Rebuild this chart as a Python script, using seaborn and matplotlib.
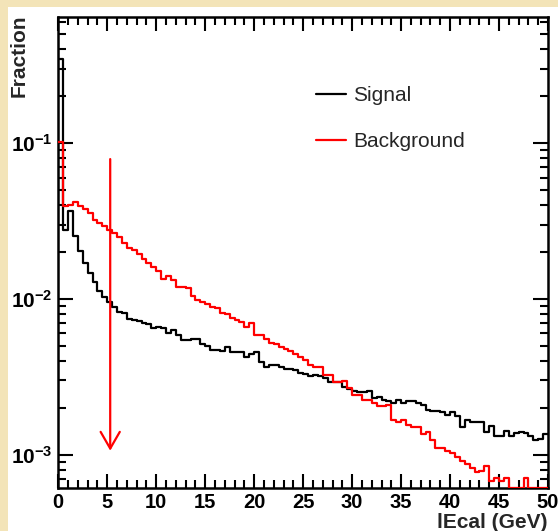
import numpy as np
import pandas as pd
import matplotlib
matplotlib.use("Agg")
import matplotlib.pyplot as plt
from matplotlib.patches import Rectangle
from matplotlib.ticker import MultipleLocator, LogLocator, NullFormatter
import seaborn as sns

# 100 bins of 0.5 GeV between 0 and 50 GeV
bin_edges = np.linspace(0, 50, 101)

signal = [
    0.347, 0.0278, 0.0368, 0.0255, 0.0204, 0.0171, 0.01475, 0.0129, 0.0113, 0.01035,
    0.00961, 0.00893, 0.00830, 0.00817, 0.00748, 0.00737, 0.00726, 0.00705, 0.00695, 0.00655,
    0.00665, 0.00655, 0.00608, 0.00627, 0.00590, 0.00548, 0.00548, 0.00557, 0.00552, 0.00517,
    0.00502, 0.00473, 0.00473, 0.00466, 0.00494, 0.00459, 0.00459, 0.00453, 0.00421, 0.00446,
    0.00453, 0.00396, 0.00368, 0.00379, 0.00379, 0.00368, 0.00357, 0.00357, 0.00352, 0.00337,
    0.00332, 0.00318, 0.00323, 0.00318, 0.00313, 0.00295, 0.00291, 0.00291, 0.00274, 0.00266,
    0.00255, 0.00251, 0.00251, 0.00258, 0.00230, 0.00233, 0.00226, 0.00220, 0.00216, 0.00226,
    0.00216, 0.00220, 0.00220, 0.00216, 0.00207, 0.00195, 0.00192, 0.00190, 0.00187, 0.00179,
    0.00187, 0.00176, 0.00150, 0.00168, 0.00163, 0.00163, 0.00161, 0.00139, 0.00152, 0.00131,
    0.00131, 0.00143, 0.00131, 0.00137, 0.00139, 0.00137, 0.00131, 0.00125, 0.00127, 0.00135,
]

background = [
    0.102, 0.0396, 0.0402, 0.0421, 0.0396, 0.0379, 0.0357, 0.0322, 0.0308, 0.0295,
    0.0278, 0.0266, 0.0251, 0.0230, 0.0213, 0.0207, 0.0195, 0.0181, 0.0171, 0.0161,
    0.0150, 0.0135, 0.0141, 0.0133, 0.0120, 0.0120, 0.0118, 0.0105, 0.00990, 0.00961,
    0.00933, 0.00893, 0.00880, 0.00817, 0.00805, 0.00759, 0.00737, 0.00715, 0.00664, 0.00705,
    0.00590, 0.00590, 0.00557, 0.00525, 0.00517, 0.00494, 0.00480, 0.00466, 0.00440, 0.00421,
    0.00408, 0.00379, 0.00368, 0.00368, 0.00323, 0.00323, 0.00295, 0.00295, 0.00299, 0.00270,
    0.00243, 0.00243, 0.00226, 0.00226, 0.00216, 0.00204, 0.00204, 0.00207, 0.00168, 0.00161,
    0.00166, 0.00154, 0.00150, 0.00150, 0.00135, 0.00139, 0.00124, 0.00111, 0.00110, 0.00105,
    0.00103, 0.000961, 0.000906, 0.000867, 0.000817, 0.000771, 0.000782, 0.000842, 0.000674, 0.000705,
    0.000674, 0.000705, 0.0, 0.0, 0.0, 0.000705, 0.0, 0.0, 0.0, 0.0,
]

series_labels = ["Signal", "Background"]
series_colors = ["black", "#ff0000"]

x_ticks = [0, 5, 10, 15, 20, 25, 30, 35, 40, 45, 50]
y_ticks = [1e-3, 1e-2, 1e-1]
y_tick_labels = [r"$\mathbf{10^{-3}}$", r"$\mathbf{10^{-2}}$", r"$\mathbf{10^{-1}}$"]

cut_value = 5.3
arrow_top, arrow_tip = 0.079, 1.06e-3
y_range = (6.14e-4, 0.648)

sns.set_theme(style="ticks")
plt.rcParams["font.family"] = ["Liberation Sans", "DejaVu Sans"]
plt.rcParams["mathtext.fontset"] = "custom"
plt.rcParams["mathtext.rm"] = "Liberation Sans"
plt.rcParams["mathtext.bf"] = "Liberation Sans:bold"

W, H = 558, 531
fig = plt.figure(figsize=(W / 100, H / 100), dpi=100)
fig.patch.set_facecolor("#f3e4b8")
fig.patches.append(Rectangle((8 / W, 0), (W - 8) / W, (H - 7) / H,
                             transform=fig.transFigure, facecolor="white",
                             edgecolor="none", zorder=-10))

ax = fig.add_axes([58.3 / W, (H - 487.7) / H, 489.7 / W, 471 / H])
ax.set_facecolor("white")

centers = 0.5 * (bin_edges[:-1] + bin_edges[1:])
for values, label, color in zip([signal, background], series_labels, series_colors):
    # empty bins sit on the lower frame, as on a log axis they have no height
    frame = pd.DataFrame({"energy": centers,
                          "fraction": np.maximum(np.asarray(values), y_range[0])})
    sns.histplot(data=frame, x="energy", weights="fraction", bins=list(bin_edges),
                 element="step", fill=False, color=color, lw=1.6, label=label,
                 ax=ax, zorder=3)

ax.set_yscale("log")
ax.set_xlim(0, 50)
ax.set_ylim(*y_range)

# cut position
ax.annotate("", xy=(cut_value, arrow_tip), xytext=(cut_value, arrow_top),
            arrowprops=dict(arrowstyle="->,head_length=0.4,head_width=0.23",
                            color="#ff0000", lw=1.6, shrinkA=0, shrinkB=0,
                            mutation_scale=30), zorder=4)

ax.set_xticks(x_ticks)
ax.set_xticklabels([str(t) for t in x_ticks], fontsize=14.5, fontweight="bold")
ax.xaxis.set_minor_locator(MultipleLocator(1))
ax.set_yticks(y_ticks)
ax.set_yticklabels(y_tick_labels, fontsize=15)
ax.yaxis.set_minor_locator(LogLocator(base=10, subs=np.arange(2, 10)))
ax.yaxis.set_minor_formatter(NullFormatter())

ax.tick_params(which="both", direction="in", top=True, right=True,
               width=1.5, color="black", labelcolor="black")
ax.tick_params(axis="x", which="major", length=10, pad=3.5)
ax.tick_params(axis="x", which="minor", length=5.5)
ax.tick_params(axis="y", which="major", length=11, pad=4)
ax.tick_params(axis="y", which="minor", length=6)
for s in ax.spines.values():
    s.set_linewidth(1.8)
    s.set_color("black")

ax.set_xlabel("lEcal (GeV)", fontsize=15, fontweight="bold", loc="right")
ax.xaxis.set_label_coords(0.998, -0.053)
ax.set_ylabel("Fraction", fontsize=15, fontweight="bold", loc="top")
ax.yaxis.set_label_coords(-0.06, 1.004)

ax.legend(loc="upper left", bbox_to_anchor=(316 / W, 1 - 86 / H),
          bbox_transform=fig.transFigure, frameon=False, fontsize=15,
          handlelength=1.45, handletextpad=0.35, labelspacing=1.3,
          borderpad=0, borderaxespad=0)

fig.savefig("out.png", dpi=100, facecolor=fig.get_facecolor())
